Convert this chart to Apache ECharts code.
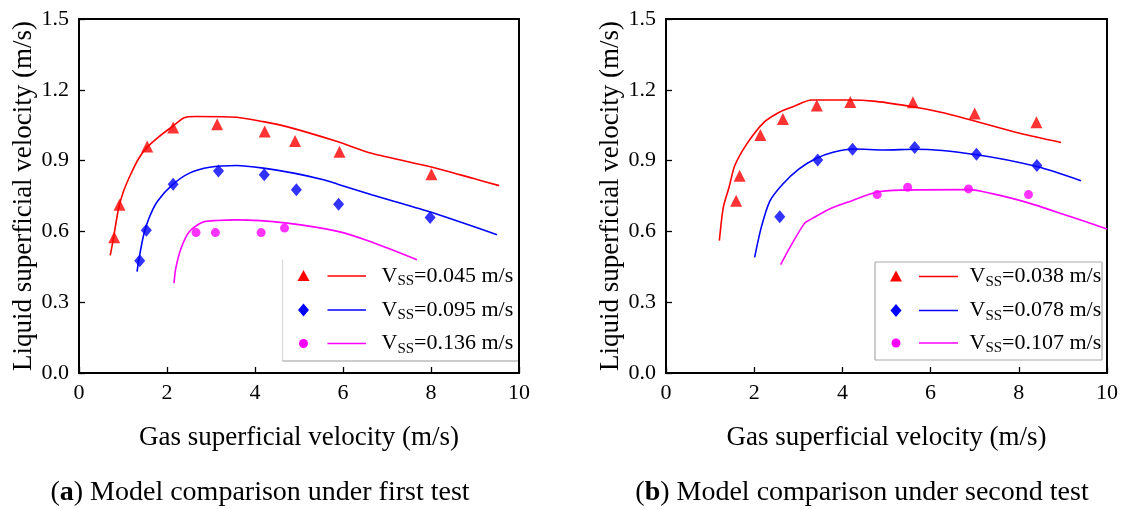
<!DOCTYPE html>
<html>
<head>
<meta charset="utf-8">
<script src="https://cdn.jsdelivr.net/npm/echarts@6/dist/echarts.min.js"></script>
<style>
html,body{margin:0;padding:0;background:#fff;}
#c{width:1123px;height:509px;}
</style>
</head>
<body>
<div id="c"></div>
<script>
// ---------- Data: panel (a) ----------
const aRedPtsX  = [0.80, 0.92, 1.55, 2.14, 3.14, 4.22, 4.91, 5.92, 8.01];
const aRedPtsY  = [0.575, 0.713, 0.960, 1.040, 1.054, 1.023, 0.983, 0.938, 0.842];
const aBluePtsX = [1.38, 1.53, 2.14, 3.17, 4.21, 4.94, 5.90, 7.98];
const aBluePtsY = [0.476, 0.605, 0.800, 0.856, 0.840, 0.776, 0.715, 0.659];
const aMagPtsX  = [2.66, 3.10, 4.14, 4.67];
const aMagPtsY  = [0.595, 0.595, 0.595, 0.614];
const aRedLineX  = [0.71, 0.77, 0.90, 1.01, 1.17, 1.36, 1.55, 1.82, 2.12, 2.39, 2.66, 3.58, 4.19, 4.72, 5.87, 6.65, 8.03, 8.95, 9.55];
const aRedLineY  = [0.498, 0.557, 0.698, 0.769, 0.840, 0.910, 0.957, 1.002, 1.044, 1.082, 1.087, 1.084, 1.065, 1.044, 0.981, 0.931, 0.872, 0.825, 0.794];
const aBlueLineX = [1.32, 1.36, 1.47, 1.59, 1.78, 2.12, 2.51, 2.97, 3.58, 4.19, 4.88, 5.58, 5.88, 6.65, 7.95, 9.50];
const aBlueLineY = [0.430, 0.480, 0.586, 0.656, 0.727, 0.797, 0.847, 0.872, 0.879, 0.868, 0.847, 0.818, 0.800, 0.755, 0.684, 0.586];
const aMagLineX  = [2.16, 2.20, 2.32, 2.51, 2.81, 3.12, 3.58, 4.73, 5.88, 6.65, 7.68];
const aMagLineY  = [0.381, 0.444, 0.529, 0.600, 0.639, 0.646, 0.649, 0.635, 0.600, 0.555, 0.480];
const aLegendVals = ['0.045', '0.095', '0.136'];

// ---------- Data: panel (b) ----------
const bRedPtsX  = [1.59, 1.67, 2.14, 2.65, 3.42, 4.18, 5.60, 7.00, 8.40];
const bRedPtsY  = [0.730, 0.836, 1.008, 1.076, 1.133, 1.148, 1.147, 1.100, 1.062];
const bBluePtsX = [2.58, 3.44, 4.23, 5.64, 7.04, 8.41];
const bBluePtsY = [0.662, 0.903, 0.948, 0.955, 0.927, 0.879];
const bMagPtsX  = [4.79, 5.48, 6.86, 8.22];
const bMagPtsY  = [0.756, 0.787, 0.780, 0.756];
const bRedLineX  = [1.21, 1.30, 1.43, 1.56, 1.83, 2.22, 2.57, 2.89, 3.30, 4.11, 4.76, 5.66, 6.23, 7.04, 8.02, 8.96];
const bRedLineY  = [0.561, 0.702, 0.787, 0.879, 0.970, 1.062, 1.105, 1.129, 1.157, 1.157, 1.151, 1.126, 1.105, 1.066, 1.016, 0.977];
const bBlueLineX = [2.01, 2.16, 2.36, 2.65, 3.01, 3.38, 3.79, 4.28, 4.93, 5.66, 7.04, 8.43, 9.41];
const bBlueLineY = [0.490, 0.617, 0.730, 0.801, 0.864, 0.907, 0.935, 0.949, 0.945, 0.948, 0.925, 0.874, 0.815];
const bMagLineX  = [2.60, 2.81, 3.14, 3.30, 3.71, 4.11, 4.76, 5.33, 6.88, 7.37, 8.18, 8.99, 10.0];
const bMagLineY  = [0.459, 0.532, 0.634, 0.653, 0.695, 0.723, 0.766, 0.775, 0.777, 0.761, 0.723, 0.674, 0.610];
const bLegendVals = ['0.038', '0.078', '0.107'];

// ---------- Axis labels / captions ----------
const xAxisTitle = 'Gas superficial velocity (m/s)';
const yAxisTitle = 'Liquid superficial velocity (m/s)';
const captionA = ['a', ' Model comparison under first test'];
const captionB = ['b', ' Model comparison under second test'];

const FONT = '"Liberation Serif", "Times New Roman", serif';
const RED = '#ff0000', BLUE = '#0000ff', MAG = '#ff00ff';
const zip = (xs, ys) => xs.map((x, i) => [x, ys[i]]);

function xAxisCfg(idx) {
  return {
    gridIndex: idx, type: 'value', min: 0, max: 10, interval: 2,
    name: xAxisTitle, nameLocation: 'middle', nameGap: 51,
    nameTextStyle: { fontFamily: FONT, fontSize: 27, color: '#000' },
    axisLine: { lineStyle: { color: '#000', width: 2 } },
    axisTick: { inside: true, length: 6, lineStyle: { color: '#000', width: 1.3 } },
    axisLabel: { fontFamily: FONT, fontSize: 22, color: '#000', margin: 9 },
    splitLine: { show: false }
  };
}
function yAxisCfg(idx) {
  return {
    gridIndex: idx, type: 'value', min: 0, max: 1.5, interval: 0.3,
    name: yAxisTitle, nameLocation: 'middle', nameGap: 42,
    nameTextStyle: { fontFamily: FONT, fontSize: 27, color: '#000' },
    axisLine: { lineStyle: { color: '#000', width: 2 } },
    axisTick: { inside: true, length: 6, lineStyle: { color: '#000', width: 1.3 } },
    axisLabel: { fontFamily: FONT, fontSize: 22, color: '#000', margin: 10,
                 formatter: v => v.toFixed(1) },
    splitLine: { show: false }
  };
}
function scatter(idx, name, xs, ys, color, symbol, size) {
  return { type: 'scatter', name, xAxisIndex: idx, yAxisIndex: idx,
           data: zip(xs, ys), symbol, symbolSize: size,
           itemStyle: { color }, z: 4 };
}
function line(idx, name, xs, ys, color) {
  return { type: 'line', name, xAxisIndex: idx, yAxisIndex: idx,
           data: zip(xs, ys), symbol: 'none', smooth: 0.25,
           lineStyle: { color, width: 1.6 }, z: 3 };
}

// legend drawn with graphic elements (symbol + line + rich text per row)
function legendGraphic(cfg) {
  const children = [];
  children.push({ type: 'rect', shape: { x: cfg.box[0], y: cfg.box[1], width: cfg.box[2], height: cfg.box[3] },
                  style: { fill: '#fff', stroke: null } });
  cfg.borders.forEach(b => children.push({ type: 'line', shape: { x1: b[0], y1: b[1], x2: b[2], y2: b[3] },
                  style: { stroke: b[4], lineWidth: 1.2 } }));
  const colors = [RED, BLUE, MAG];
  cfg.rows.forEach((y, i) => {
    const sx = cfg.symX;
    if (i === 0) {
      children.push({ type: 'polygon', shape: { points: [[sx, y - 6], [sx + 6, y + 5], [sx - 6, y + 5]] }, style: { fill: RED } });
    } else if (i === 1) {
      children.push({ type: 'polygon', shape: { points: [[sx, y - 6.5], [sx + 5.5, y], [sx, y + 6.5], [sx - 5.5, y]] }, style: { fill: BLUE } });
    } else {
      children.push({ type: 'circle', shape: { cx: sx, cy: y, r: 4.5 }, style: { fill: MAG } });
    }
    children.push({ type: 'line', shape: { x1: cfg.lineX[0], y1: y, x2: cfg.lineX[1], y2: y },
                    style: { stroke: colors[i], lineWidth: 1.6 } });
    children.push({ type: 'text', x: cfg.textX, y: y,
      style: { text: '{v|V}{s|SS}{v|=' + cfg.vals[i] + ' m/s}', verticalAlign: 'middle', align: 'left',
        rich: {
          v: { fontFamily: FONT, fontSize: 22, lineHeight: 26, fill: '#000', verticalAlign: 'middle' },
          s: { fontFamily: FONT, fontSize: 15, lineHeight: 14, fill: '#000', verticalAlign: 'bottom' }
        } } });
  });
  return { type: 'group', z: 100, children };
}

const chart = echarts.init(document.getElementById('c'), null, { renderer: 'canvas' });
chart.setOption({
  backgroundColor: '#fff',
  animation: false,
  grid: [
    { left: 79, top: 19, width: 440, height: 354, show: true, borderColor: '#000', borderWidth: 2, backgroundColor: 'transparent' },
    { left: 666, top: 19, width: 441, height: 354, show: true, borderColor: '#000', borderWidth: 2, backgroundColor: 'transparent' }
  ],
  xAxis: [xAxisCfg(0), xAxisCfg(1)],
  yAxis: [yAxisCfg(0), yAxisCfg(1)],
  series: [
    line(0, 'a-red-line', aRedLineX, aRedLineY, RED),
    line(0, 'a-blue-line', aBlueLineX, aBlueLineY, BLUE),
    line(0, 'a-mag-line', aMagLineX, aMagLineY, MAG),
    scatter(0, 'a-red', aRedPtsX, aRedPtsY, RED, 'triangle', 12),
    scatter(0, 'a-blue', aBluePtsX, aBluePtsY, BLUE, 'diamond', [11, 13]),
    scatter(0, 'a-mag', aMagPtsX, aMagPtsY, MAG, 'circle', 9),
    line(1, 'b-red-line', bRedLineX, bRedLineY, RED),
    line(1, 'b-blue-line', bBlueLineX, bBlueLineY, BLUE),
    line(1, 'b-mag-line', bMagLineX, bMagLineY, MAG),
    scatter(1, 'b-red', bRedPtsX, bRedPtsY, RED, 'triangle', 12),
    scatter(1, 'b-blue', bBluePtsX, bBluePtsY, BLUE, 'diamond', [11, 13]),
    scatter(1, 'b-mag', bMagPtsX, bMagPtsY, MAG, 'circle', 9)
  ],
  graphic: [
    legendGraphic({ box: [282.5, 259.5, 235.5, 101.5],
      borders: [[282.5, 259.5, 282.5, 361, '#d8d8d8'], [282.5, 361, 518, 361, '#9a9a9a']],
      rows: [276, 310, 343.5], symX: 303.5, lineX: [327.5, 366], textX: 381.5, vals: aLegendVals }),
    legendGraphic({ box: [875, 262, 227, 98],
      borders: [[875, 262, 1102, 262, '#aaaaaa'], [1102, 262, 1102, 360, '#aaaaaa'],
                [1102, 360, 875, 360, '#aaaaaa'], [875, 360, 875, 262, '#aaaaaa']],
      rows: [276.5, 310.5, 343], symX: 896, lineX: [919, 958], textX: 969.5, vals: bLegendVals }),
    { type: 'text', x: 260, y: 493, z: 100,
      style: { text: '{n|(}{b|' + captionA[0] + '}{n|)' + captionA[1] + '}', align: 'center', verticalAlign: 'middle',
        rich: { n: { fontFamily: FONT, fontSize: 28, fill: '#000' },
                b: { fontFamily: FONT, fontSize: 28, fontWeight: 'bold', fill: '#000' } } } },
    { type: 'text', x: 862, y: 493, z: 100,
      style: { text: '{n|(}{b|' + captionB[0] + '}{n|)' + captionB[1] + '}', align: 'center', verticalAlign: 'middle',
        rich: { n: { fontFamily: FONT, fontSize: 28, fill: '#000' },
                b: { fontFamily: FONT, fontSize: 28, fontWeight: 'bold', fill: '#000' } } } }
  ]
});
</script>
</body>
</html>
